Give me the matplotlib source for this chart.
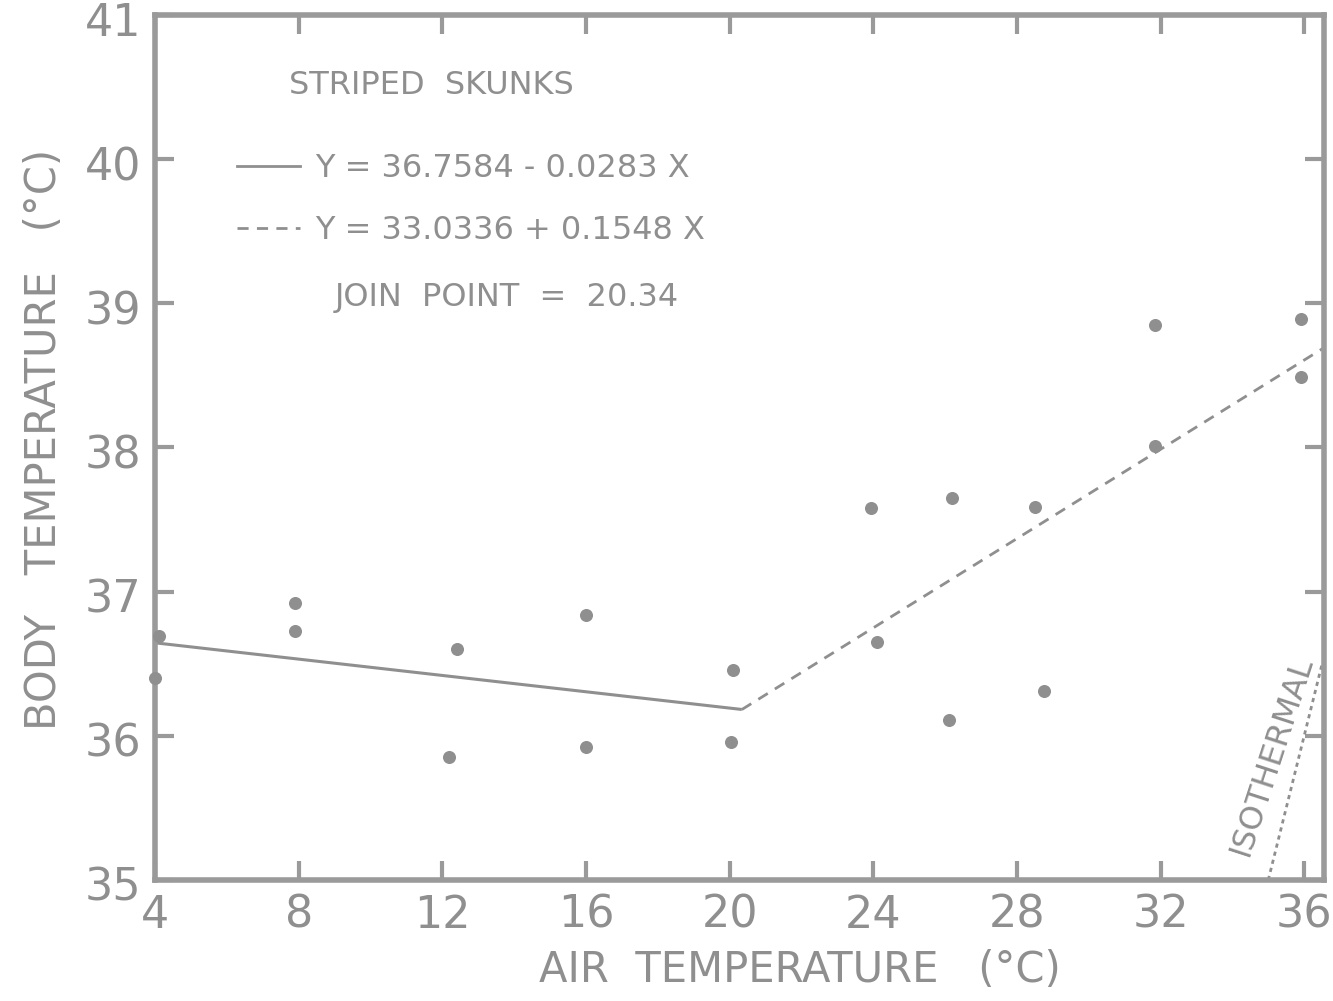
import matplotlib
matplotlib.use("Agg")
import numpy as np
import matplotlib.pyplot as plt
import matplotlib.transforms as mtransforms
from matplotlib.lines import Line2D

# air temperature vs body temperature, striped skunks
air_temp = [4.0, 4.1, 7.9, 7.9, 12.4, 12.2, 16.0, 16.0, 20.1, 20.05,
            23.95, 24.1, 26.2, 26.1, 28.5, 28.75, 31.85, 31.85, 35.9, 35.9]
body_temp = [36.40, 36.69, 36.92, 36.73, 36.60, 35.85, 36.84, 35.92, 36.46, 35.96,
             37.58, 36.65, 37.65, 36.11, 37.59, 36.31, 38.85, 38.01, 38.89, 38.49]

# two-phase regression
low_a, low_b = 36.7584, -0.0283
high_a, high_b = 33.0336, 0.1548
join_point = 20.34

x_ticks = [4, 8, 12, 16, 20, 24, 28, 32, 36]
y_ticks = [35, 36, 37, 38, 39, 40, 41]
x_max = 36.55
isothermal_range = [35.0, 36.5]

grey = "#8f8f8f"
plt.rcParams["font.family"] = ["DejaVu Sans"]

fig = plt.figure(figsize=(13.33, 10.01), dpi=100)
ax = fig.add_axes([0.1163, 0.1209, 0.9932 - 0.1163, 0.985 - 0.1209])

ax.scatter(air_temp, body_temp, s=70, color=grey, zorder=3, clip_on=False)

xs_low = np.array([x_ticks[0], join_point])
ax.plot(xs_low, low_a + low_b * xs_low, color=grey, lw=2.2, solid_capstyle="butt")
xs_high = np.array([join_point, x_max])
ax.plot(xs_high, high_a + high_b * xs_high, color=grey, lw=2.0, dashes=(4, 3))

iso = np.array(isothermal_range)
ax.plot(iso, iso, color=grey, lw=2.0, dashes=(1.5, 1.5))
ax.text(35.1, 35.86, "ISOTHERMAL", rotation=72, ha="center", va="center",
        fontsize=23, color=grey)

ax.set_xlim(x_ticks[0], x_max)
ax.set_ylim(y_ticks[0], y_ticks[-1])
ax.set_xticks(x_ticks)
ax.set_yticks(y_ticks)
ax.tick_params(direction="in", length=14, width=3, color="#9a9a9a",
               labelsize=32, labelcolor=grey, top=True, right=True, pad=10)
# y labels sit a hair below their ticks
shift = mtransforms.ScaledTranslation(0, -0.04, fig.dpi_scale_trans)
for lab in ax.get_yticklabels():
    lab.set_transform(lab.get_transform() + shift)
for s in ax.spines.values():
    s.set_color("#9a9a9a")
    s.set_linewidth(4)

ax.set_xlabel("AIR  TEMPERATURE   (°C)", fontsize=30, color=grey)
ax.xaxis.set_label_coords(0.552, -0.08)
ax.set_ylabel("BODY   TEMPERATURE   (°C)", fontsize=30, color=grey)
ax.yaxis.set_label_coords(-0.077, 0.509)

ax.text(0.115, 0.919, "STRIPED  SKUNKS", transform=ax.transAxes,
        fontsize=23, color=grey, va="center")
handles = [Line2D([], [], color=grey, lw=2.0),
           Line2D([], [], color=grey, lw=2.0, dashes=(4, 3))]
labels = ["Y = %.4f - %.4f X" % (low_a, -low_b),
          "Y = %.4f + %.4f X" % (high_a, high_b)]
ax.legend(handles, labels, loc="upper left", bbox_to_anchor=(0.070, 0.840),
          frameon=False, fontsize=23, labelcolor=grey, handlelength=1.97,
          handletextpad=0.47, labelspacing=0.97, borderpad=0, borderaxespad=0)
ax.text(0.154, 0.673, "JOIN  POINT  =  %.2f" % join_point, transform=ax.transAxes,
        fontsize=23, color=grey, va="center")

fig.savefig("out.png", dpi=100, facecolor="white")
